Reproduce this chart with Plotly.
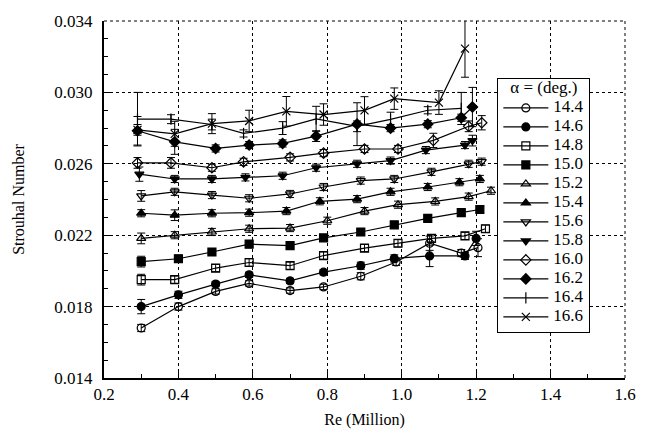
import plotly.graph_objects as go

# ---------------- data ----------------
alphas = ["14.4", "14.6", "14.8", "15.0", "15.2", "15.4",
          "15.6", "15.8", "16.0", "16.2", "16.4", "16.6"]

re_144 = [0.30, 0.40, 0.50, 0.59, 0.70, 0.79, 0.89, 0.985, 1.075, 1.16, 1.205]
st_144 = [0.0168, 0.0180, 0.01885, 0.0193, 0.0189, 0.0191, 0.0197, 0.0205, 0.02155, 0.0210, 0.0213]
er_144 = [0.0002, 0.0002, 0.00015, 0.00015, 0.00015, 0.00015, 0.0002, 0.0002, 0.0004, 0.0002, 0.0005]

re_146 = [0.30, 0.40, 0.50, 0.59, 0.70, 0.79, 0.89, 0.98, 1.075, 1.17, 1.20]
st_146 = [0.0180, 0.01866, 0.01926, 0.01978, 0.01944, 0.01993, 0.02029, 0.0207, 0.02084, 0.02084, 0.02182]
er_146 = [0.0004, 0.0002, 0.00015, 0.00015, 0.00015, 0.00015, 0.0002, 0.0002, 0.0006, 0.0002, 0.0004]

re_148 = [0.30, 0.39, 0.50, 0.59, 0.70, 0.79, 0.90, 0.99, 1.08, 1.17, 1.225]
st_148 = [0.01951, 0.01951, 0.02016, 0.02047, 0.02029, 0.02086, 0.02128, 0.02155, 0.02182, 0.02196, 0.02236]
er_148 = [0.0003, 0.0002, 0.0002, 0.0002, 0.0002, 0.0002, 0.0002, 0.0002, 0.0002, 0.0002, 0.0002]

re_150 = [0.30, 0.40, 0.49, 0.59, 0.70, 0.79, 0.89, 0.98, 1.07, 1.16, 1.21]
st_150 = [0.02052, 0.02068, 0.02106, 0.0215, 0.02142, 0.02185, 0.02218, 0.02258, 0.02294, 0.02326, 0.02344]
er_150 = [0.0003, 0.0002, 0.00015, 0.0002, 0.00015, 0.00015, 0.00015, 0.00015, 0.00015, 0.00015, 0.00015]

re_152 = [0.30, 0.39, 0.49, 0.59, 0.70, 0.80, 0.90, 0.99, 1.09, 1.18, 1.24]
st_152 = [0.02182, 0.0220, 0.02218, 0.02236, 0.0224, 0.02281, 0.02335, 0.02371, 0.02389, 0.02416, 0.02449]
er_152 = [0.0003, 0.0002, 0.0002, 0.0002, 0.0002, 0.0002, 0.0002, 0.0002, 0.0002, 0.0002, 0.0002]

re_154 = [0.30, 0.39, 0.49, 0.59, 0.69, 0.78, 0.88, 0.97, 1.07, 1.155, 1.21]
st_154 = [0.02323, 0.02312, 0.02323, 0.02326, 0.02335, 0.0239, 0.02402, 0.02443, 0.0247, 0.02497, 0.02515]
er_154 = [0.0002, 0.0003, 0.0002, 0.0002, 0.0002, 0.0002, 0.0002, 0.0002, 0.0002, 0.0002, 0.0002]

re_156 = [0.30, 0.39, 0.49, 0.59, 0.70, 0.79, 0.89, 0.98, 1.08, 1.18, 1.215]
st_156 = [0.0242, 0.02443, 0.02425, 0.02407, 0.02431, 0.0247, 0.02506, 0.02515, 0.02555, 0.0260, 0.02612]
er_156 = [0.0003, 0.0002, 0.0002, 0.0002, 0.0002, 0.0002, 0.0002, 0.0002, 0.0002, 0.0002, 0.0002]

re_158 = [0.295, 0.39, 0.49, 0.58, 0.68, 0.77, 0.88, 0.97, 1.065, 1.17, 1.19]
st_158 = [0.02542, 0.02515, 0.02515, 0.02524, 0.02533, 0.02578, 0.0260, 0.02618, 0.02677, 0.02705, 0.0273]
er_158 = [0.0004, 0.0002, 0.0002, 0.0002, 0.0002, 0.0002, 0.0002, 0.0002, 0.0002, 0.0002, 0.0003]

re_160 = [0.29, 0.38, 0.49, 0.575, 0.70, 0.79, 0.90, 0.99, 1.085, 1.18, 1.215]
st_160 = [0.02605, 0.02605, 0.02578, 0.02611, 0.02636, 0.0266, 0.02683, 0.02683, 0.02731, 0.0281, 0.0283]
er_160 = [0.0003, 0.0003, 0.0002, 0.0002, 0.0002, 0.0002, 0.0002, 0.0002, 0.0004, 0.0003, 0.0004]

re_162 = [0.29, 0.39, 0.50, 0.59, 0.68, 0.77, 0.88, 0.97, 1.07, 1.16, 1.19]
st_162 = [0.02785, 0.02723, 0.02686, 0.02705, 0.02714, 0.02755, 0.02822, 0.0280, 0.02822, 0.02858, 0.02918]
er_162 = [0.0008, 0.0007, 0.0002, 0.0002, 0.0002, 0.0003, 0.0012, 0.0002, 0.0002, 0.0002, 0.0011]

re_164 = [0.29, 0.38, 0.49, 0.575, 0.68, 0.77, 0.88, 0.97, 1.07, 1.16]
st_164 = [0.0285, 0.0285, 0.0282, 0.0277, 0.0280, 0.02852, 0.0281, 0.02849, 0.0290, 0.0291]
er_164 = [0.0015, 0.00025, 0.0003, 0.0002, 0.00036, 0.0007, 0.0003, 0.0004, 0.0002, 0.0009]

re_166 = [0.29, 0.39, 0.49, 0.59, 0.69, 0.79, 0.90, 0.98, 1.10, 1.17]
st_166 = [0.0279, 0.02768, 0.02825, 0.0284, 0.02894, 0.02876, 0.02899, 0.02965, 0.02943, 0.03245]
er_166 = [0.0003, 0.0007, 0.00056, 0.0006, 0.00083, 0.0006, 0.00077, 0.0006, 0.00066, 0.0016]

series_re = [re_144, re_146, re_148, re_150, re_152, re_154,
             re_156, re_158, re_160, re_162, re_164, re_166]
series_st = [st_144, st_146, st_148, st_150, st_152, st_154,
             st_156, st_158, st_160, st_162, st_164, st_166]
series_er = [er_144, er_146, er_148, er_150, er_152, er_154,
             er_156, er_158, er_160, er_162, er_164, er_166]

symbols = ["circle-open", "circle", "square-open", "square", "triangle-up-open",
           "triangle-up", "triangle-down-open", "triangle-down", "diamond-open",
           "diamond", "line-ns-open", "x-thin-open"]

x_ticks = [0.2, 0.4, 0.6, 0.8, 1.0, 1.2, 1.4, 1.6]
y_ticks = [0.014, 0.018, 0.022, 0.026, 0.030, 0.034]

FONT = "Liberation Serif"
LEG_TXT = 17  # rendered legend text size


def big(t, s=LEG_TXT):
    return '<span style="font-size:%dpx">%s</span>' % (s, t)


fig = go.Figure()
for name, xs, ys, es, sym in zip(alphas, series_re, series_st, series_er, symbols):
    fig.add_trace(go.Scatter(
        x=xs, y=ys, name=big(name), mode="lines+markers",
        line=dict(color="black", width=1.2),
        marker=dict(symbol=sym, size=8, color="black",
                    line=dict(color="black", width=1.2)),
        error_y=dict(type="data", array=es, visible=True,
                     color="black", thickness=1, width=4),
    ))

fig.update_layout(
    width=648, height=438,
    margin=dict(l=104, r=14, t=16, b=50),
    paper_bgcolor="white", plot_bgcolor="white",
    font=dict(family=FONT, size=16, color="black"),
    showlegend=True,
    legend=dict(
        x=0.755, y=0.84, xanchor="left", yanchor="top",
        bordercolor="black", borderwidth=1, bgcolor="white",
        font=dict(family=FONT, size=11, color="black"),
        title=dict(text=big("α = (deg.)"), font=dict(family=FONT, size=11),
                   side="top center"),
        itemwidth=45, tracegroupgap=0,
    ),
    xaxis=dict(
        range=[0.2, 1.6], tickvals=x_ticks, tickformat=".1f",
        showgrid=True, gridcolor="black", griddash="dot", gridwidth=1,
        showline=True, linecolor="black", linewidth=2, mirror=False,
        ticks="inside", ticklen=6, tickcolor="black",
        minor=dict(dtick=0.1, ticks="inside", ticklen=4, tickcolor="black", showgrid=False),
        zeroline=False,
        title=dict(text="Re (Million)", font=dict(family=FONT, size=16), standoff=10),
        tickfont=dict(family=FONT, size=17),
    ),
    yaxis=dict(
        range=[0.014, 0.034], tickvals=y_ticks, tickformat=".3f",
        showgrid=True, gridcolor="black", griddash="dot", gridwidth=1,
        showline=True, linecolor="black", linewidth=2, mirror=False,
        ticks="inside", ticklen=6, tickcolor="black",
        minor=dict(dtick=0.001, ticks="inside", ticklen=4, tickcolor="black", showgrid=False),
        zeroline=False, ticklabelstandoff=6,
        title=dict(text="Strouhal Number", font=dict(family=FONT, size=16), standoff=26),
        tickfont=dict(family=FONT, size=17),
    ),
)

# dotted top and right frame edges
fig.add_shape(type="line", xref="paper", yref="paper", x0=0, x1=1, y0=1, y1=1,
              line=dict(color="black", width=1, dash="dot"))
fig.add_shape(type="line", xref="paper", yref="paper", x0=1, x1=1, y0=0, y1=1,
              line=dict(color="black", width=1, dash="dot"))

fig.write_html("out.html", config={"displayModeBar": False},
               post_script="document.body.style.margin='0px';")
